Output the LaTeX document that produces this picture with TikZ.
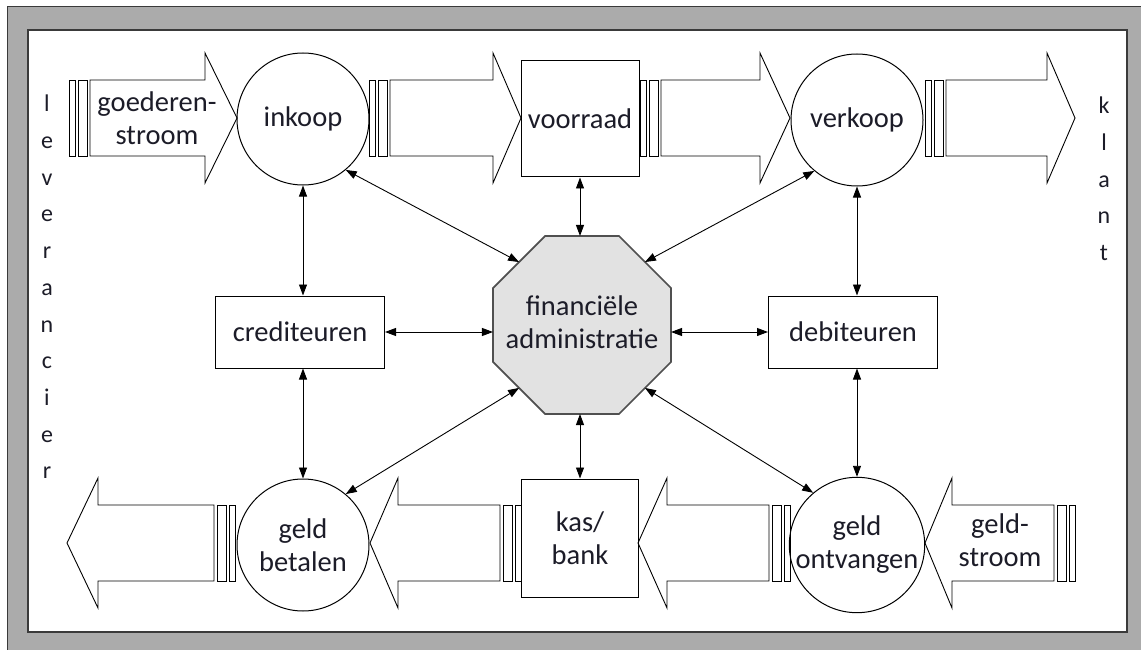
\documentclass[tikz,border=0pt]{standalone}
\usepackage{fontspec}
\setmainfont{Carlito}
\usetikzlibrary{shapes.geometric,arrows.meta}

\definecolor{framegray}{HTML}{ABABAB}
\definecolor{frameline}{HTML}{3A3A3A}
\definecolor{octfill}{HTML}{E2E2E2}
\definecolor{octline}{HTML}{505050}
\definecolor{textcol}{HTML}{1C1C28}

% fat flow arrow: #1 outer bar x, #2 head base x, #3 apex x, #4 centre y, #5 direction (+1 right, -1 left)
\newcommand{\flowarrow}[5]{%
  \draw[flowline] ({#1},{#4-38}) rectangle ({#1+6*#5},{#4+38});
  \draw[flowline] ({#1+9*#5},{#4-38}) rectangle ({#1+18*#5},{#4+38});
  \draw[flowline] ({#1+21*#5},{#4-38}) -- ({#2},{#4-38}) -- ({#2},{#4-65})
    -- ({#3},{#4}) -- ({#2},{#4+65}) -- ({#2},{#4+38}) -- ({#1+21*#5},{#4+38}) -- cycle;
}

\begin{document}
\begin{tikzpicture}[x=1pt,y=-1pt,
  every node/.style={font=\fontsize{28.5}{33}\selectfont, text=textcol, align=center},
  flowline/.style={draw=black, line width=0.9pt, line join=miter},
  process/.style={circle, draw=black, line width=1pt, minimum size=132pt, inner sep=0pt},
  store/.style={rectangle, draw=black, line width=1pt, inner sep=0pt},
  ledger/.style={rectangle, draw=black, line width=1pt, minimum width=169pt, minimum height=72pt, inner sep=0pt},
  hub/.style={regular polygon, regular polygon sides=8, minimum size=192.7pt, inner sep=0pt,
    outer sep=0pt, fill=octfill, draw=octline, line width=1.6pt},
  link/.style={draw=black, line width=0.9pt, {Triangle[length=11pt,width=8pt]}-{Triangle[length=11pt,width=8pt]}},
  sideword/.style={font=\fontsize{24}{36.7}\selectfont}]

\useasboundingbox (0,0) rectangle (1141,650);

% frame
\fill[framegray] (7,7) rectangle (1141,650);
\draw[frameline, line width=1pt] (7,650) -- (7,7) -- (1141,7);
\draw[fill=white, draw=frameline, line width=1.4pt] (28,30) rectangle (1127,632);

% flow arrows, goods (top) and money (bottom)
\flowarrow{69}{205}{237}{118}{1}
\flowarrow{369}{493}{521}{118}{1}
\flowarrow{640}{760}{790}{118}{1}
\flowarrow{925}{1047}{1075}{118}{1}
\flowarrow{235}{98}{67}{543}{-1}
\flowarrow{521}{398}{370}{543}{-1}
\flowarrow{790}{667}{638}{543}{-1}
\flowarrow{1075}{952}{925}{543}{-1}

% nodes
\node[process] (inkoop) at (303,119) {inkoop};
\node[store, minimum width=118pt, minimum height=116pt] (voorraad) at (580,119) {voorraad};
\node[process] (verkoop) at (857,120) {verkoop};

\node[ledger] (cred) at (300,332) {crediteuren};
\node[hub] (fin) at (582,325) {};
\node (fintext) at (582,322) {financiële\\administratie};
\node[ledger] (deb) at (853,332) {debiteuren};

\node[process] (betalen) at (303,545) {geld\\betalen};
\node[store, minimum width=117pt, minimum height=118pt] (kas) at (580,538) {kas/\\bank};
\node[process] (ontvangen) at (857,545) {geld\\ontvangen};

\node (goederen) at (157,118) {goederen-\\stroom};
\node (geldstroom) at (1000,540) {geld-\\stroom};

\node[sideword] (leverancier) at (47,287) {l\\e\\v\\e\\r\\a\\n\\c\\i\\e\\r};
\node[sideword] (klant) at (1104,179) {k\\l\\a\\n\\t};

% information links
\draw[link] (inkoop.south) -- (inkoop.south |- cred.north);
\draw[link] (betalen.north) -- (betalen.north |- cred.south);
\draw[link] (verkoop.south) -- (verkoop.south |- deb.north);
\draw[link] (ontvangen.north) -- (ontvangen.north |- deb.south);
\draw[link] (voorraad.south) -- (voorraad.south |- fin.north);
\draw[link] (kas.north) -- (kas.north |- fin.south);
\draw[link] (cred.east) -- (cred.east -| fin.west);
\draw[link] (deb.west) -- (deb.west -| fin.east);
\draw[link] (inkoop.-50) -- (fin.135);
\draw[link] (verkoop.-130) -- (fin.45);
\draw[link] (betalen.50) -- (fin.225);
\draw[link] (ontvangen.130) -- (fin.315);

\end{tikzpicture}
\end{document}
